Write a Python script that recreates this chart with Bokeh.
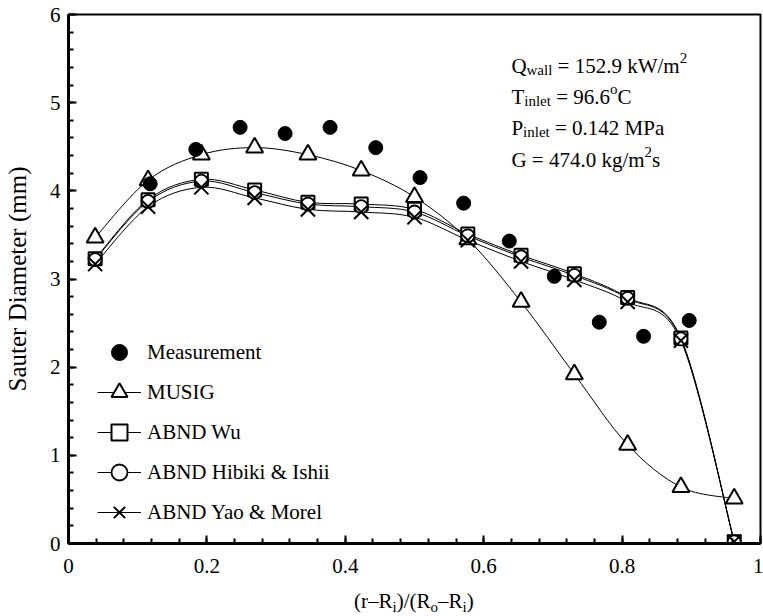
import numpy as np
from bokeh.plotting import figure
from bokeh.layouts import column
from bokeh.models import (Label, Legend, LegendItem, SingleIntervalTicker,
                          Range1d, CustomJSTickFormatter, Div)
from bokeh.embed import file_html
from bokeh.resources import INLINE

# ---------------- data ----------------
x_model = [0.0385, 0.115, 0.192, 0.269, 0.346, 0.423, 0.5, 0.577, 0.654, 0.731, 0.808, 0.885, 0.962]
musig = [3.47, 4.12, 4.41, 4.49, 4.41, 4.23, 3.93, 3.45, 2.74, 1.92, 1.12, 0.64, 0.51]
abnd_wu = [3.23, 3.90, 4.13, 4.01, 3.87, 3.85, 3.79, 3.51, 3.27, 3.06, 2.79, 2.33, 0.02]
abnd_hibiki = [3.22, 3.88, 4.11, 3.98, 3.85, 3.82, 3.76, 3.49, 3.25, 3.04, 2.78, 2.32, 0.02]
abnd_yao = [3.17, 3.82, 4.04, 3.92, 3.79, 3.76, 3.70, 3.44, 3.20, 2.99, 2.74, 2.30, 0.02]
x_meas = [0.118, 0.184, 0.248, 0.313, 0.378, 0.444, 0.508, 0.571, 0.637, 0.702, 0.767, 0.831, 0.897]
measurement = [4.08, 4.47, 4.72, 4.65, 4.72, 4.49, 4.15, 3.86, 3.43, 3.03, 2.51, 2.35, 2.53]

FONT = "Liberation Serif"
FS = 21
SUB = 15

p = figure(width=763, height=588, x_range=Range1d(0, 1), y_range=Range1d(0, 6),
           output_backend="svg", toolbar_location=None,
           min_border_left=68, min_border_right=3, min_border_top=14, min_border_bottom=45)
p.xgrid.visible = False
p.ygrid.visible = False
p.outline_line_color = "black"
p.outline_line_width = 2
p.background_fill_color = "white"
p.border_fill_color = "white"

p.xaxis.ticker = SingleIntervalTicker(interval=0.2, num_minor_ticks=5)
p.yaxis.ticker = SingleIntervalTicker(interval=1, num_minor_ticks=5)
p.xaxis.formatter = CustomJSTickFormatter(code="""
const s = tick.toFixed(1);
return s.endsWith('.0') ? s.slice(0, -2) : s;
""")
for ax in (p.xaxis[0], p.yaxis[0]):
    ax.axis_line_width = 3
    ax.axis_line_color = "black"
    ax.major_tick_in = 8
    ax.major_tick_out = 0
    ax.minor_tick_in = 5
    ax.minor_tick_out = 0
    ax.major_tick_line_width = 2
    ax.minor_tick_line_width = 2
    ax.major_tick_line_color = "black"
    ax.minor_tick_line_color = "black"
    ax.major_label_text_font = FONT
    ax.major_label_text_font_size = f"{FS}px"
    ax.major_label_text_color = "black"
p.xaxis.major_label_standoff = 15
p.yaxis.major_label_standoff = 8
p.yaxis.axis_label = "Sauter Diameter (mm)"
p.yaxis.axis_label_text_font = FONT
p.yaxis.axis_label_text_font_size = "25px"
p.yaxis.axis_label_text_font_style = "normal"
p.yaxis.axis_label_text_color = "black"
p.yaxis.axis_label_standoff = 16


def smooth(xs, ys):
    """Bezier control points (Catmull-Rom style) through the data points."""
    x = np.asarray(xs, float)
    y = np.asarray(ys, float)
    xp = np.concatenate([[x[0]], x, [x[-1]]])
    yp = np.concatenate([[y[0]], y, [y[-1]]])
    n = len(x)
    d = dict(x0=[], y0=[], x1=[], y1=[], cx0=[], cy0=[], cx1=[], cy1=[])
    for i in range(n - 1):
        a, b, c, e = i, i + 1, i + 2, i + 3
        d["x0"].append(xp[b]); d["y0"].append(yp[b])
        d["x1"].append(xp[c]); d["y1"].append(yp[c])
        d["cx0"].append(xp[b] + (xp[c] - xp[a]) / 6)
        d["cy0"].append(yp[b] + (yp[c] - yp[a]) / 6)
        d["cx1"].append(xp[c] - (xp[e] - xp[b]) / 6)
        d["cy1"].append(yp[c] - (yp[e] - yp[b]) / 6)
    return d


def curve(ys):
    d = smooth(x_model, ys)
    return p.bezier(x0=d["x0"], y0=d["y0"], x1=d["x1"], y1=d["y1"],
                    cx0=d["cx0"], cy0=d["cy0"], cx1=d["cx1"], cy1=d["cy1"],
                    line_color="black", line_width=1)


l_mu = curve(musig)
l_wu = curve(abnd_wu)
l_hi = curve(abnd_hibiki)
l_ya = curve(abnd_yao)

s_mu = p.scatter(x_model, musig, marker="triangle", size=17, line_color="black",
                 line_width=2, fill_color="white")
s_wu = p.scatter(x_model, abnd_wu, marker="square", size=13, line_color="black",
                 line_width=2, fill_color="white")
s_hi = p.scatter(x_model, abnd_hibiki, marker="circle", size=13, line_color="black",
                 line_width=1.8, fill_color="white")
s_ya = p.scatter(x_model, abnd_yao, marker="x", size=20, line_color="black",
                 line_width=2)
s_me = p.scatter(x_meas, measurement, marker="circle", size=14, line_color="black",
                 fill_color="black")

legend = Legend(items=[
    LegendItem(label="Measurement", renderers=[s_me]),
    LegendItem(label="MUSIG", renderers=[l_mu, s_mu]),
    LegendItem(label="ABND Wu", renderers=[l_wu, s_wu]),
    LegendItem(label="ABND Hibiki & Ishii", renderers=[l_hi, s_hi]),
    LegendItem(label="ABND Yao & Morel", renderers=[l_ya, s_ya]),
], location=(29, 11), orientation="vertical", border_line_color=None,
    background_fill_alpha=0, padding=0, margin=0, spacing=0,
    glyph_width=44, glyph_height=40, label_height=40, label_standoff=6,
    label_text_font=FONT, label_text_font_size=f"{FS}px", label_text_color="black")
p.add_layout(legend)

# ---------------- rich text with sub/superscripts ----------------
EM = {' ': 250, '(': 333, ')': 333, '/': 278, '–': 500, '=': 564, '.': 250,
      'Q': 722, 'T': 611, 'P': 556, 'G': 722, 'C': 667, 'M': 889, 'R': 667, 'W': 944,
      'a': 444, 'e': 444, 'i': 278, 'k': 500, 'g': 500, 'l': 278, 'm': 778,
      'n': 500, 'o': 500, 'r': 333, 's': 389, 't': 278, 'w': 722}
for dch in "0123456789":
    EM[dch] = 500


def width(s, size):
    return sum(EM.get(c, 500) for c in s) / 1000 * size


def rich(segments, x, y, start=0.0):
    adv = start
    for txt, kind in segments:
        size = FS if kind == "n" else SUB
        dy = 0 if kind == "n" else (-4 if kind == "sub" else 8)
        stripped = txt.lstrip(" ")
        adv += width(txt[:len(txt) - len(stripped)], size)
        p.add_layout(Label(x=x, y=y, x_offset=adv, y_offset=dy, text=stripped,
                           text_font=FONT, text_font_size=f"{size}px",
                           text_color="black", text_baseline="alphabetic",
                           text_align="left"))
        adv += width(stripped, size)
    return adv


ann_x = 0.640
rich([("Q", "n"), ("wall", "sub"), (" = 152.9 kW/m", "n"), ("2", "sup")], ann_x, 5.42)
rich([("T", "n"), ("inlet", "sub"), (" = 96.6", "n"), ("o", "sup"), ("C", "n")], ann_x, 5.06)
rich([("P", "n"), ("inlet", "sub"), (" = 0.142 MPa", "n")], ann_x, 4.71)
rich([("G = 474.0 kg/m", "n"), ("2", "sup"), ("s", "n")], ann_x, 4.35)

# ---------------- x-axis title (with subscripts) ----------------
sub = '<sub style="font-size:15px;vertical-align:-4px;line-height:0">%s</sub>'
xtitle = ("(r–R" + sub % "i" + ")/(R" + sub % "o" + "–R" + sub % "i" + ")")
div = Div(text=('<div style="font-family:\'Liberation Serif\';font-size:21px;'
                'line-height:24px;white-space:nowrap;padding-left:354px;'
                'padding-top:1px;color:black">'
                + xtitle + '</div>'),
          width=763, height=28, margin=(0, 0, 0, 0))

page = column(p, div, spacing=0)
open("out.html", "w").write(file_html(page, INLINE))
